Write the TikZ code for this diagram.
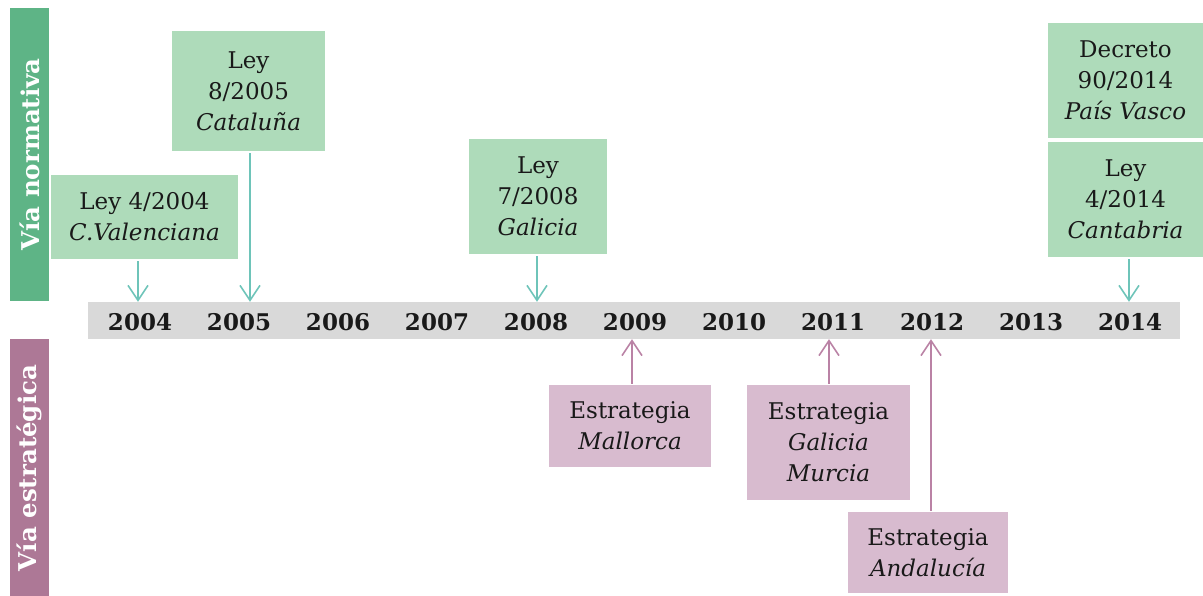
\documentclass[tikz,border=0pt]{standalone}
\usepackage{fontspec}
\setmainfont{DejaVu Serif}
\usetikzlibrary{arrows.meta}
\definecolor{sidegreen}{RGB}{94,180,134}
\definecolor{boxgreen}{RGB}{174,219,186}
\definecolor{tealarr}{RGB}{110,196,185}
\definecolor{sidepurple}{RGB}{173,120,150}
\definecolor{boxpurple}{RGB}{216,187,207}
\definecolor{purparr}{RGB}{186,130,165}
\definecolor{barGray}{RGB}{217,217,217}
\definecolor{txt}{RGB}{25,25,25}
\begin{document}
\begin{tikzpicture}[x=1pt,y=-1pt,
  bx/.style={inner sep=0pt, align=center, text=txt, font=\fontsize{23}{31}\selectfont},
  gbox/.style={bx, fill=boxgreen},
  pbox/.style={bx, fill=boxpurple},
  year/.style={inner sep=0pt, text=txt, font=\fontsize{23}{28}\selectfont\bfseries},
  side/.style={inner sep=0pt, text=white, rotate=90, font=\fontsize{24.5}{28}\selectfont\bfseries},
  garr/.style={draw=tealarr, line width=1.6pt, -{Straight Barb[length=15pt,width=20pt,line width=1.6pt]}, shorten <=2pt},
  parr/.style={draw=purparr, line width=1.6pt, -{Straight Barb[length=15pt,width=20pt,line width=1.6pt]}, shorten <=1pt}]
\useasboundingbox (0,0) rectangle (1203,596);
% side bars
\node[fill=sidegreen, minimum width=39pt, minimum height=293pt, inner sep=0pt] (sg) at (29.5,154.5) {};
\node[side] (sgt) at (29.5,154.5) {Vía normativa};
\node[fill=sidepurple, minimum width=39pt, minimum height=257pt, inner sep=0pt] (sp) at (29.5,467.5) {};
\node[side] (spt) at (29.5,468) {Vía estratégica};
% timeline
\node[fill=barGray, minimum width=1092pt, minimum height=37pt, inner sep=0pt] (tl) at (634,320.5) {};
\foreach \yr [count=\i from 0] in {2004,2005,2006,2007,2008,2009,2010,2011,2012,2013,2014}{
  \node[year] (y\yr) at ({140+99*\i},322) {\yr};
}
% green boxes
\node[gbox, minimum width=187pt, minimum height=84pt] (c04) at (144.5,217) {Ley 4/2004\\\textit{C.Valenciana}};
\node[gbox, minimum width=153pt, minimum height=120pt] (c05) at (248.5,91) {Ley\\8/2005\\\textit{Cataluña}};
\node[gbox, minimum width=138pt, minimum height=115pt] (g08) at (538,196.5) {Ley\\7/2008\\\textit{Galicia}};
\node[gbox, minimum width=155pt, minimum height=115pt] (pv14) at (1125.5,80.5) {Decreto\\90/2014\\\textit{País Vasco}};
\node[gbox, minimum width=155pt, minimum height=115pt] (ca14) at (1125.5,199.5) {Ley\\4/2014\\\textit{Cantabria}};
% purple boxes
\node[pbox, minimum width=162pt, minimum height=82pt] (m09) at (630,426) {Estrategia\\\textit{Mallorca}};
\node[pbox, minimum width=163pt, minimum height=115pt] (gm11) at (828.5,442.5) {Estrategia\\\textit{Galicia}\\\textit{Murcia}};
\node[pbox, minimum width=160pt, minimum height=81pt] (an12) at (928,552.5) {Estrategia\\\textit{Andalucía}};
% arrows
\draw[garr] ([xshift=-6.5pt]c04.south) -- ([xshift=-6.5pt]c04.south |- tl.north);
\draw[garr] ([xshift=1.5pt]c05.south) -- ([xshift=1.5pt]c05.south |- tl.north);
\draw[garr] ([xshift=-1pt]g08.south) -- ([xshift=-1pt]g08.south |- tl.north);
\draw[garr] ([xshift=3.5pt]ca14.south) -- ([xshift=3.5pt]ca14.south |- tl.north);
\draw[parr] ([xshift=2pt]m09.north) -- ([xshift=2pt]m09.north |- tl.south);
\draw[parr] ([xshift=0.5pt]gm11.north) -- ([xshift=0.5pt]gm11.north |- tl.south);
\draw[parr] ([xshift=3pt]an12.north) -- ([xshift=3pt]an12.north |- tl.south);
\end{tikzpicture}
\end{document}
